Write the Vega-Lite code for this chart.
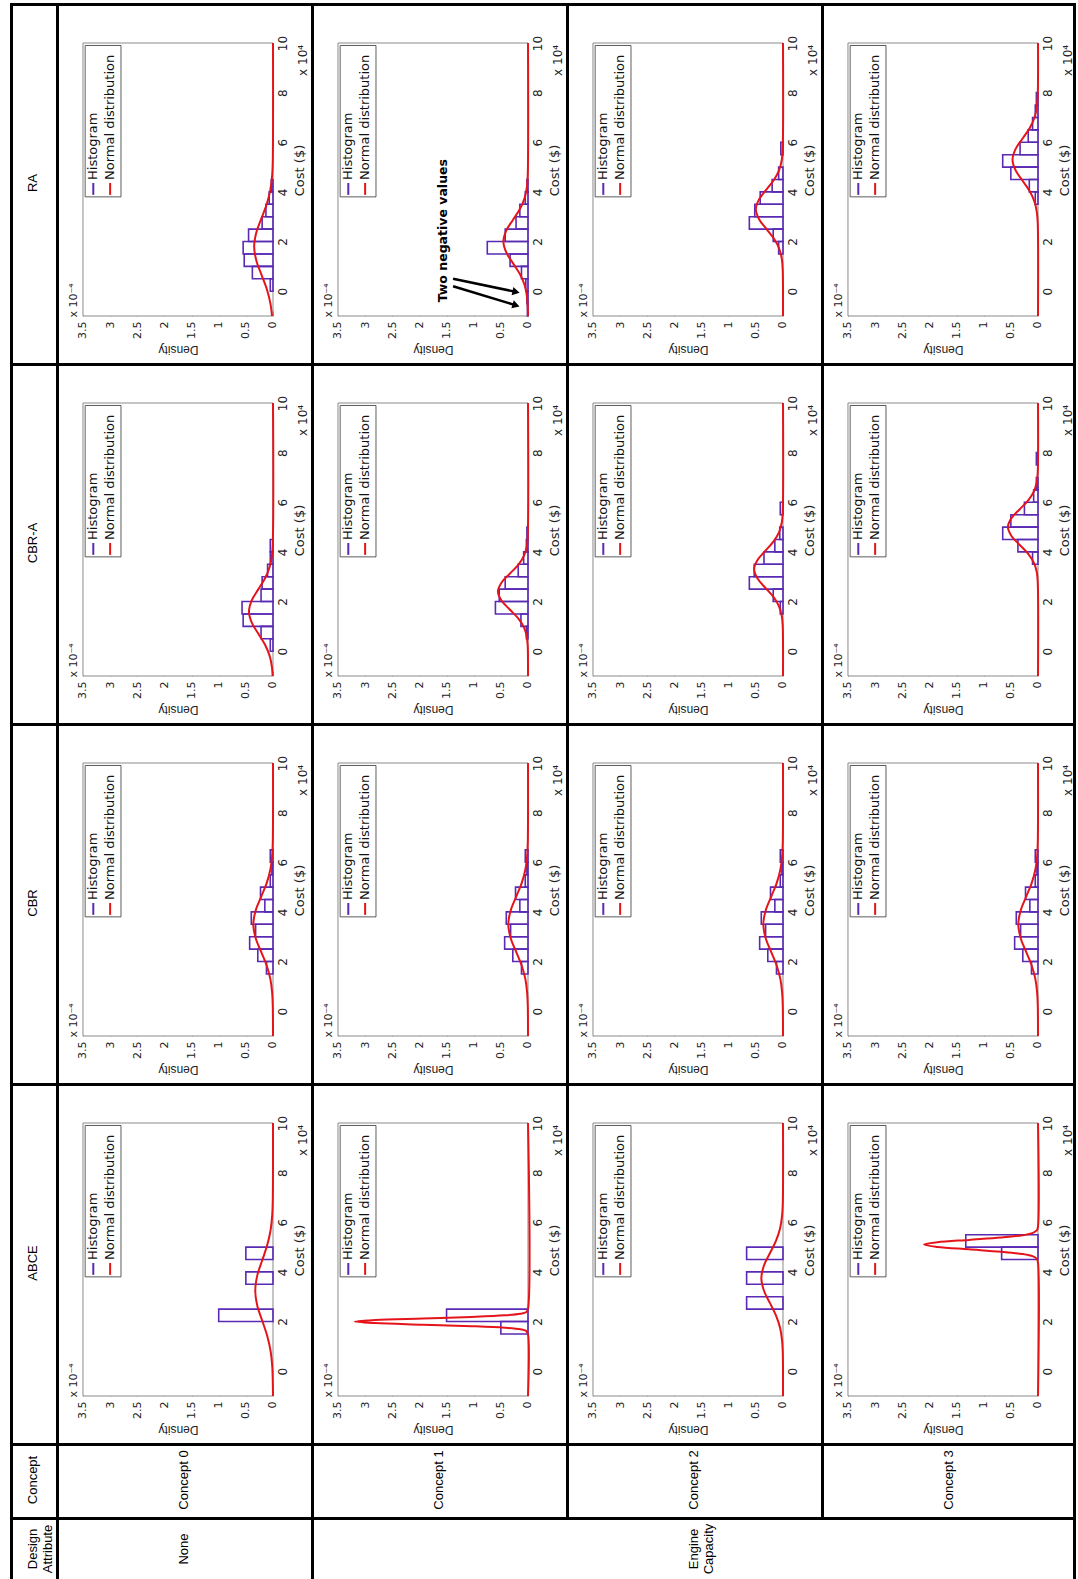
{
"$schema": "https://vega.github.io/schema/vega-lite/v6.json",
"padding": {"left": 10, "top": 3, "right": 0, "bottom": 0},
"background": "white",
"config": {"view": {"stroke": null}, "font": "Liberation Sans", "concat": {"spacing": 0}, "facet": {"spacing": 0}, "axis": {"labelOverlap": false}},
"spacing": 0,
"vconcat": [
{"hconcat": [
  {"vconcat": [
    {"width": 46, "height": 360, "data": {"values": [{"label": "RA"}]}, "layer": [
      {"mark": {"type": "text", "angle": 270, "fontSize": 13, "color": "black"}, "encoding": {"text": {"field": "label"}, "x": {"datum": 0.5, "type": "quantitative", "scale": {"domain": [0, 1], "nice": false}, "axis": null}, "y": {"datum": 0.5, "type": "quantitative", "scale": {"domain": [0, 1], "nice": false}, "axis": null}}},
      {"mark": {"type": "rect", "color": "black"}, "encoding": {"x": {"datum": 0, "type": "quantitative", "axis": null}, "x2": {"datum": 0.0652}, "y": {"datum": 0, "type": "quantitative", "axis": null}, "y2": {"datum": 1}}},
      {"mark": {"type": "rect", "color": "black"}, "encoding": {"x": {"datum": 0, "type": "quantitative", "axis": null}, "x2": {"datum": 1}, "y": {"datum": 1, "type": "quantitative", "axis": null}, "y2": {"datum": 0.99167}}}
    ]},
    {"width": 46, "height": 360, "data": {"values": [{"label": "CBR-A"}]}, "layer": [
      {"mark": {"type": "text", "angle": 270, "fontSize": 13, "color": "black"}, "encoding": {"text": {"field": "label"}, "x": {"datum": 0.5, "type": "quantitative", "scale": {"domain": [0, 1], "nice": false}, "axis": null}, "y": {"datum": 0.5, "type": "quantitative", "scale": {"domain": [0, 1], "nice": false}, "axis": null}}},
      {"mark": {"type": "rect", "color": "black"}, "encoding": {"x": {"datum": 0, "type": "quantitative", "axis": null}, "x2": {"datum": 0.0652}, "y": {"datum": 0, "type": "quantitative", "axis": null}, "y2": {"datum": 1}}},
      {"mark": {"type": "rect", "color": "black"}, "encoding": {"x": {"datum": 0, "type": "quantitative", "axis": null}, "x2": {"datum": 1}, "y": {"datum": 1, "type": "quantitative", "axis": null}, "y2": {"datum": 0.99167}}}
    ]},
    {"width": 46, "height": 360, "data": {"values": [{"label": "CBR"}]}, "layer": [
      {"mark": {"type": "text", "angle": 270, "fontSize": 13, "color": "black"}, "encoding": {"text": {"field": "label"}, "x": {"datum": 0.5, "type": "quantitative", "scale": {"domain": [0, 1], "nice": false}, "axis": null}, "y": {"datum": 0.5, "type": "quantitative", "scale": {"domain": [0, 1], "nice": false}, "axis": null}}},
      {"mark": {"type": "rect", "color": "black"}, "encoding": {"x": {"datum": 0, "type": "quantitative", "axis": null}, "x2": {"datum": 0.0652}, "y": {"datum": 0, "type": "quantitative", "axis": null}, "y2": {"datum": 1}}},
      {"mark": {"type": "rect", "color": "black"}, "encoding": {"x": {"datum": 0, "type": "quantitative", "axis": null}, "x2": {"datum": 1}, "y": {"datum": 1, "type": "quantitative", "axis": null}, "y2": {"datum": 0.99167}}}
    ]},
    {"width": 46, "height": 360, "data": {"values": [{"label": "ABCE"}]}, "layer": [
      {"mark": {"type": "text", "angle": 270, "fontSize": 13, "color": "black"}, "encoding": {"text": {"field": "label"}, "x": {"datum": 0.5, "type": "quantitative", "scale": {"domain": [0, 1], "nice": false}, "axis": null}, "y": {"datum": 0.5, "type": "quantitative", "scale": {"domain": [0, 1], "nice": false}, "axis": null}}},
      {"mark": {"type": "rect", "color": "black"}, "encoding": {"x": {"datum": 0, "type": "quantitative", "axis": null}, "x2": {"datum": 0.0652}, "y": {"datum": 0, "type": "quantitative", "axis": null}, "y2": {"datum": 1}}},
      {"mark": {"type": "rect", "color": "black"}, "encoding": {"x": {"datum": 0, "type": "quantitative", "axis": null}, "x2": {"datum": 1}, "y": {"datum": 1, "type": "quantitative", "axis": null}, "y2": {"datum": 0.99167}}}
    ]}
  ], "spacing": 0, "bounds": "flush"},
  {
  "data": {"values": [
{"kind":"panel","method":"RA","concept":0},{"kind":"panel","method":"RA","concept":1},{"kind":"panel","method":"RA","concept":2},{"kind":"panel","method":"RA","concept":3},
{"kind":"panel","method":"CBR-A","concept":0},{"kind":"panel","method":"CBR-A","concept":1},{"kind":"panel","method":"CBR-A","concept":2},{"kind":"panel","method":"CBR-A","concept":3},
{"kind":"panel","method":"CBR","concept":0},{"kind":"panel","method":"CBR","concept":1},{"kind":"panel","method":"CBR","concept":2},{"kind":"panel","method":"CBR","concept":3},
{"kind":"panel","method":"ABCE","concept":0},{"kind":"panel","method":"ABCE","concept":1},{"kind":"panel","method":"ABCE","concept":2},{"kind":"panel","method":"ABCE","concept":3},
{"kind":"note","method":"RA","concept":1},

{"kind":"hist","method":"RA","concept":0,"cost":0,"cost2":0.5,"density":0.05},
{"kind":"hist","method":"RA","concept":0,"cost":0.5,"cost2":1,"density":0.38},
{"kind":"hist","method":"RA","concept":0,"cost":1,"cost2":1.5,"density":0.53},
{"kind":"hist","method":"RA","concept":0,"cost":1.5,"cost2":2,"density":0.55},
{"kind":"hist","method":"RA","concept":0,"cost":2,"cost2":2.5,"density":0.45},
{"kind":"hist","method":"RA","concept":0,"cost":2.5,"cost2":3,"density":0.2},
{"kind":"hist","method":"RA","concept":0,"cost":3,"cost2":3.5,"density":0.13},
{"kind":"hist","method":"RA","concept":0,"cost":3.5,"cost2":4,"density":0.07},
{"kind":"hist","method":"RA","concept":0,"cost":4,"cost2":4.5,"density":0.03},

{"kind":"hist","method":"RA","concept":1,"cost":-1,"cost2":-0.5,"density":0.01},
{"kind":"hist","method":"RA","concept":1,"cost":-0.5,"cost2":0,"density":0.02},
{"kind":"hist","method":"RA","concept":1,"cost":0,"cost2":0.5,"density":0.04},
{"kind":"hist","method":"RA","concept":1,"cost":0.5,"cost2":1,"density":0.12},
{"kind":"hist","method":"RA","concept":1,"cost":1,"cost2":1.5,"density":0.33},
{"kind":"hist","method":"RA","concept":1,"cost":1.5,"cost2":2,"density":0.75},
{"kind":"hist","method":"RA","concept":1,"cost":2,"cost2":2.5,"density":0.42},
{"kind":"hist","method":"RA","concept":1,"cost":2.5,"cost2":3,"density":0.22},
{"kind":"hist","method":"RA","concept":1,"cost":3,"cost2":3.5,"density":0.15},
{"kind":"hist","method":"RA","concept":1,"cost":3.5,"cost2":4,"density":0.05},
{"kind":"hist","method":"RA","concept":1,"cost":4,"cost2":4.5,"density":0.02},

{"kind":"hist","method":"RA","concept":2,"cost":1.5,"cost2":2,"density":0.08},
{"kind":"hist","method":"RA","concept":2,"cost":2,"cost2":2.5,"density":0.18},
{"kind":"hist","method":"RA","concept":2,"cost":2.5,"cost2":3,"density":0.62},
{"kind":"hist","method":"RA","concept":2,"cost":3,"cost2":3.5,"density":0.52},
{"kind":"hist","method":"RA","concept":2,"cost":3.5,"cost2":4,"density":0.42},
{"kind":"hist","method":"RA","concept":2,"cost":4,"cost2":4.5,"density":0.2},
{"kind":"hist","method":"RA","concept":2,"cost":4.5,"cost2":5,"density":0.08},
{"kind":"hist","method":"RA","concept":2,"cost":5.5,"cost2":6,"density":0.04},

{"kind":"hist","method":"RA","concept":3,"cost":3.5,"cost2":4,"density":0.05},
{"kind":"hist","method":"RA","concept":3,"cost":4,"cost2":4.5,"density":0.16},
{"kind":"hist","method":"RA","concept":3,"cost":4.5,"cost2":5,"density":0.5},
{"kind":"hist","method":"RA","concept":3,"cost":5,"cost2":5.5,"density":0.65},
{"kind":"hist","method":"RA","concept":3,"cost":5.5,"cost2":6,"density":0.33},
{"kind":"hist","method":"RA","concept":3,"cost":6,"cost2":6.5,"density":0.18},
{"kind":"hist","method":"RA","concept":3,"cost":6.5,"cost2":7,"density":0.1},
{"kind":"hist","method":"RA","concept":3,"cost":7,"cost2":7.5,"density":0.05},
{"kind":"hist","method":"RA","concept":3,"cost":7.5,"cost2":8,"density":0.03},

{"kind":"hist","method":"CBR-A","concept":0,"cost":0,"cost2":0.5,"density":0.05},
{"kind":"hist","method":"CBR-A","concept":0,"cost":0.5,"cost2":1,"density":0.22},
{"kind":"hist","method":"CBR-A","concept":0,"cost":1,"cost2":1.5,"density":0.55},
{"kind":"hist","method":"CBR-A","concept":0,"cost":1.5,"cost2":2,"density":0.57},
{"kind":"hist","method":"CBR-A","concept":0,"cost":2,"cost2":2.5,"density":0.22},
{"kind":"hist","method":"CBR-A","concept":0,"cost":2.5,"cost2":3,"density":0.2},
{"kind":"hist","method":"CBR-A","concept":0,"cost":3,"cost2":3.5,"density":0.1},
{"kind":"hist","method":"CBR-A","concept":0,"cost":3.5,"cost2":4,"density":0.05},
{"kind":"hist","method":"CBR-A","concept":0,"cost":4,"cost2":4.5,"density":0.05},

{"kind":"hist","method":"CBR-A","concept":1,"cost":0.5,"cost2":1,"density":0.03},
{"kind":"hist","method":"CBR-A","concept":1,"cost":1,"cost2":1.5,"density":0.13},
{"kind":"hist","method":"CBR-A","concept":1,"cost":1.5,"cost2":2,"density":0.6},
{"kind":"hist","method":"CBR-A","concept":1,"cost":2,"cost2":2.5,"density":0.53},
{"kind":"hist","method":"CBR-A","concept":1,"cost":2.5,"cost2":3,"density":0.42},
{"kind":"hist","method":"CBR-A","concept":1,"cost":3,"cost2":3.5,"density":0.18},
{"kind":"hist","method":"CBR-A","concept":1,"cost":3.5,"cost2":4,"density":0.08},
{"kind":"hist","method":"CBR-A","concept":1,"cost":4,"cost2":4.5,"density":0.03},
{"kind":"hist","method":"CBR-A","concept":1,"cost":4.5,"cost2":5,"density":0.02},

{"kind":"hist","method":"CBR-A","concept":2,"cost":1.5,"cost2":2,"density":0.05},
{"kind":"hist","method":"CBR-A","concept":2,"cost":2,"cost2":2.5,"density":0.18},
{"kind":"hist","method":"CBR-A","concept":2,"cost":2.5,"cost2":3,"density":0.62},
{"kind":"hist","method":"CBR-A","concept":2,"cost":3,"cost2":3.5,"density":0.53},
{"kind":"hist","method":"CBR-A","concept":2,"cost":3.5,"cost2":4,"density":0.35},
{"kind":"hist","method":"CBR-A","concept":2,"cost":4,"cost2":4.5,"density":0.15},
{"kind":"hist","method":"CBR-A","concept":2,"cost":4.5,"cost2":5,"density":0.06},
{"kind":"hist","method":"CBR-A","concept":2,"cost":5.5,"cost2":6,"density":0.05},

{"kind":"hist","method":"CBR-A","concept":3,"cost":3.5,"cost2":4,"density":0.1},
{"kind":"hist","method":"CBR-A","concept":3,"cost":4,"cost2":4.5,"density":0.37},
{"kind":"hist","method":"CBR-A","concept":3,"cost":4.5,"cost2":5,"density":0.65},
{"kind":"hist","method":"CBR-A","concept":3,"cost":5,"cost2":5.5,"density":0.5},
{"kind":"hist","method":"CBR-A","concept":3,"cost":5.5,"cost2":6,"density":0.25},
{"kind":"hist","method":"CBR-A","concept":3,"cost":6,"cost2":6.5,"density":0.08},
{"kind":"hist","method":"CBR-A","concept":3,"cost":6.5,"cost2":7,"density":0.03},
{"kind":"hist","method":"CBR-A","concept":3,"cost":7.5,"cost2":8,"density":0.03},

{"kind":"hist","method":"CBR","concept":0,"cost":1.5,"cost2":2,"density":0.12},
{"kind":"hist","method":"CBR","concept":0,"cost":2,"cost2":2.5,"density":0.28},
{"kind":"hist","method":"CBR","concept":0,"cost":2.5,"cost2":3,"density":0.43},
{"kind":"hist","method":"CBR","concept":0,"cost":3,"cost2":3.5,"density":0.32},
{"kind":"hist","method":"CBR","concept":0,"cost":3.5,"cost2":4,"density":0.4},
{"kind":"hist","method":"CBR","concept":0,"cost":4,"cost2":4.5,"density":0.15},
{"kind":"hist","method":"CBR","concept":0,"cost":4.5,"cost2":5,"density":0.23},
{"kind":"hist","method":"CBR","concept":0,"cost":5,"cost2":5.5,"density":0.05},
{"kind":"hist","method":"CBR","concept":0,"cost":5.5,"cost2":6,"density":0.02},
{"kind":"hist","method":"CBR","concept":0,"cost":6,"cost2":6.5,"density":0.05},

{"kind":"hist","method":"CBR","concept":1,"cost":1.5,"cost2":2,"density":0.12},
{"kind":"hist","method":"CBR","concept":1,"cost":2,"cost2":2.5,"density":0.28},
{"kind":"hist","method":"CBR","concept":1,"cost":2.5,"cost2":3,"density":0.43},
{"kind":"hist","method":"CBR","concept":1,"cost":3,"cost2":3.5,"density":0.32},
{"kind":"hist","method":"CBR","concept":1,"cost":3.5,"cost2":4,"density":0.4},
{"kind":"hist","method":"CBR","concept":1,"cost":4,"cost2":4.5,"density":0.15},
{"kind":"hist","method":"CBR","concept":1,"cost":4.5,"cost2":5,"density":0.23},
{"kind":"hist","method":"CBR","concept":1,"cost":5,"cost2":5.5,"density":0.05},
{"kind":"hist","method":"CBR","concept":1,"cost":5.5,"cost2":6,"density":0.02},
{"kind":"hist","method":"CBR","concept":1,"cost":6,"cost2":6.5,"density":0.05},

{"kind":"hist","method":"CBR","concept":2,"cost":1.5,"cost2":2,"density":0.12},
{"kind":"hist","method":"CBR","concept":2,"cost":2,"cost2":2.5,"density":0.28},
{"kind":"hist","method":"CBR","concept":2,"cost":2.5,"cost2":3,"density":0.43},
{"kind":"hist","method":"CBR","concept":2,"cost":3,"cost2":3.5,"density":0.32},
{"kind":"hist","method":"CBR","concept":2,"cost":3.5,"cost2":4,"density":0.4},
{"kind":"hist","method":"CBR","concept":2,"cost":4,"cost2":4.5,"density":0.15},
{"kind":"hist","method":"CBR","concept":2,"cost":4.5,"cost2":5,"density":0.23},
{"kind":"hist","method":"CBR","concept":2,"cost":5,"cost2":5.5,"density":0.05},
{"kind":"hist","method":"CBR","concept":2,"cost":5.5,"cost2":6,"density":0.02},
{"kind":"hist","method":"CBR","concept":2,"cost":6,"cost2":6.5,"density":0.05},

{"kind":"hist","method":"CBR","concept":3,"cost":1.5,"cost2":2,"density":0.12},
{"kind":"hist","method":"CBR","concept":3,"cost":2,"cost2":2.5,"density":0.28},
{"kind":"hist","method":"CBR","concept":3,"cost":2.5,"cost2":3,"density":0.43},
{"kind":"hist","method":"CBR","concept":3,"cost":3,"cost2":3.5,"density":0.32},
{"kind":"hist","method":"CBR","concept":3,"cost":3.5,"cost2":4,"density":0.4},
{"kind":"hist","method":"CBR","concept":3,"cost":4,"cost2":4.5,"density":0.15},
{"kind":"hist","method":"CBR","concept":3,"cost":4.5,"cost2":5,"density":0.23},
{"kind":"hist","method":"CBR","concept":3,"cost":5,"cost2":5.5,"density":0.05},
{"kind":"hist","method":"CBR","concept":3,"cost":5.5,"cost2":6,"density":0.02},
{"kind":"hist","method":"CBR","concept":3,"cost":6,"cost2":6.5,"density":0.05},

{"kind":"hist","method":"ABCE","concept":0,"cost":2,"cost2":2.5,"density":1},
{"kind":"hist","method":"ABCE","concept":0,"cost":3.5,"cost2":4,"density":0.5},
{"kind":"hist","method":"ABCE","concept":0,"cost":4.5,"cost2":5,"density":0.5},
{"kind":"hist","method":"ABCE","concept":1,"cost":1.5,"cost2":2,"density":0.5},
{"kind":"hist","method":"ABCE","concept":1,"cost":2,"cost2":2.5,"density":1.5},
{"kind":"hist","method":"ABCE","concept":2,"cost":2.5,"cost2":3,"density":0.67},
{"kind":"hist","method":"ABCE","concept":2,"cost":3.5,"cost2":4,"density":0.67},
{"kind":"hist","method":"ABCE","concept":2,"cost":4.5,"cost2":5,"density":0.67},
{"kind":"hist","method":"ABCE","concept":3,"cost":4.5,"cost2":5,"density":0.67},
{"kind":"hist","method":"ABCE","concept":3,"cost":5,"cost2":5.5,"density":1.33},

{"kind":"curve","method":"RA","concept":0,"cost":-1,"density":0.018},
{"kind":"curve","method":"RA","concept":0,"cost":-0.5,"density":0.047},
{"kind":"curve","method":"RA","concept":0,"cost":0.075,"density":0.113},
{"kind":"curve","method":"RA","concept":0,"cost":0.65,"density":0.21},
{"kind":"curve","method":"RA","concept":0,"cost":1.225,"density":0.306},
{"kind":"curve","method":"RA","concept":0,"cost":1.8,"density":0.347},
{"kind":"curve","method":"RA","concept":0,"cost":2.375,"density":0.306},
{"kind":"curve","method":"RA","concept":0,"cost":2.95,"density":0.21},
{"kind":"curve","method":"RA","concept":0,"cost":3.525,"density":0.113},
{"kind":"curve","method":"RA","concept":0,"cost":4.1,"density":0.047},
{"kind":"curve","method":"RA","concept":0,"cost":4.675,"density":0.015},
{"kind":"curve","method":"RA","concept":0,"cost":5.25,"density":0.004},
{"kind":"curve","method":"RA","concept":0,"cost":10,"density":0},

{"kind":"curve","method":"RA","concept":1,"cost":-1,"density":0.001},
{"kind":"curve","method":"RA","concept":1,"cost":-0.64,"density":0.005},
{"kind":"curve","method":"RA","concept":1,"cost":-0.2,"density":0.02},
{"kind":"curve","method":"RA","concept":1,"cost":0.24,"density":0.061},
{"kind":"curve","method":"RA","concept":1,"cost":0.68,"density":0.147},
{"kind":"curve","method":"RA","concept":1,"cost":1.12,"density":0.275},
{"kind":"curve","method":"RA","concept":1,"cost":1.56,"density":0.4},
{"kind":"curve","method":"RA","concept":1,"cost":2,"density":0.453},
{"kind":"curve","method":"RA","concept":1,"cost":2.44,"density":0.4},
{"kind":"curve","method":"RA","concept":1,"cost":2.88,"density":0.275},
{"kind":"curve","method":"RA","concept":1,"cost":3.32,"density":0.147},
{"kind":"curve","method":"RA","concept":1,"cost":3.76,"density":0.061},
{"kind":"curve","method":"RA","concept":1,"cost":4.2,"density":0.02},
{"kind":"curve","method":"RA","concept":1,"cost":4.64,"density":0.005},
{"kind":"curve","method":"RA","concept":1,"cost":10,"density":0},

{"kind":"curve","method":"RA","concept":2,"cost":-1,"density":0},
{"kind":"curve","method":"RA","concept":2,"cost":0.9,"density":0.006},
{"kind":"curve","method":"RA","concept":2,"cost":1.3,"density":0.022},
{"kind":"curve","method":"RA","concept":2,"cost":1.7,"density":0.068},
{"kind":"curve","method":"RA","concept":2,"cost":2.1,"density":0.162},
{"kind":"curve","method":"RA","concept":2,"cost":2.5,"density":0.303},
{"kind":"curve","method":"RA","concept":2,"cost":2.9,"density":0.441},
{"kind":"curve","method":"RA","concept":2,"cost":3.3,"density":0.5},
{"kind":"curve","method":"RA","concept":2,"cost":3.7,"density":0.441},
{"kind":"curve","method":"RA","concept":2,"cost":4.1,"density":0.303},
{"kind":"curve","method":"RA","concept":2,"cost":4.5,"density":0.162},
{"kind":"curve","method":"RA","concept":2,"cost":4.9,"density":0.068},
{"kind":"curve","method":"RA","concept":2,"cost":5.3,"density":0.022},
{"kind":"curve","method":"RA","concept":2,"cost":5.7,"density":0.006},
{"kind":"curve","method":"RA","concept":2,"cost":10,"density":0},

{"kind":"curve","method":"RA","concept":3,"cost":-1,"density":0},
{"kind":"curve","method":"RA","concept":3,"cost":2.75,"density":0.005},
{"kind":"curve","method":"RA","concept":3,"cost":3.175,"density":0.021},
{"kind":"curve","method":"RA","concept":3,"cost":3.6,"density":0.063},
{"kind":"curve","method":"RA","concept":3,"cost":4.025,"density":0.152},
{"kind":"curve","method":"RA","concept":3,"cost":4.45,"density":0.284},
{"kind":"curve","method":"RA","concept":3,"cost":4.875,"density":0.414},
{"kind":"curve","method":"RA","concept":3,"cost":5.3,"density":0.469},
{"kind":"curve","method":"RA","concept":3,"cost":5.725,"density":0.414},
{"kind":"curve","method":"RA","concept":3,"cost":6.15,"density":0.284},
{"kind":"curve","method":"RA","concept":3,"cost":6.575,"density":0.152},
{"kind":"curve","method":"RA","concept":3,"cost":7,"density":0.063},
{"kind":"curve","method":"RA","concept":3,"cost":7.425,"density":0.021},
{"kind":"curve","method":"RA","concept":3,"cost":7.85,"density":0.005},
{"kind":"curve","method":"RA","concept":3,"cost":10,"density":0},

{"kind":"curve","method":"CBR-A","concept":0,"cost":-1,"density":0.007},
{"kind":"curve","method":"CBR-A","concept":0,"cost":-0.65,"density":0.019},
{"kind":"curve","method":"CBR-A","concept":0,"cost":-0.2,"density":0.06},
{"kind":"curve","method":"CBR-A","concept":0,"cost":0.25,"density":0.144},
{"kind":"curve","method":"CBR-A","concept":0,"cost":0.7,"density":0.269},
{"kind":"curve","method":"CBR-A","concept":0,"cost":1.15,"density":0.391},
{"kind":"curve","method":"CBR-A","concept":0,"cost":1.6,"density":0.443},
{"kind":"curve","method":"CBR-A","concept":0,"cost":2.05,"density":0.391},
{"kind":"curve","method":"CBR-A","concept":0,"cost":2.5,"density":0.269},
{"kind":"curve","method":"CBR-A","concept":0,"cost":2.95,"density":0.144},
{"kind":"curve","method":"CBR-A","concept":0,"cost":3.4,"density":0.06},
{"kind":"curve","method":"CBR-A","concept":0,"cost":3.85,"density":0.019},
{"kind":"curve","method":"CBR-A","concept":0,"cost":4.3,"density":0.005},
{"kind":"curve","method":"CBR-A","concept":0,"cost":10,"density":0},

{"kind":"curve","method":"CBR-A","concept":1,"cost":-1,"density":0},
{"kind":"curve","method":"CBR-A","concept":1,"cost":0.24,"density":0.006},
{"kind":"curve","method":"CBR-A","concept":1,"cost":0.6,"density":0.024},
{"kind":"curve","method":"CBR-A","concept":1,"cost":0.96,"density":0.075},
{"kind":"curve","method":"CBR-A","concept":1,"cost":1.32,"density":0.18},
{"kind":"curve","method":"CBR-A","concept":1,"cost":1.68,"density":0.336},
{"kind":"curve","method":"CBR-A","concept":1,"cost":2.04,"density":0.489},
{"kind":"curve","method":"CBR-A","concept":1,"cost":2.4,"density":0.554},
{"kind":"curve","method":"CBR-A","concept":1,"cost":2.76,"density":0.489},
{"kind":"curve","method":"CBR-A","concept":1,"cost":3.12,"density":0.336},
{"kind":"curve","method":"CBR-A","concept":1,"cost":3.48,"density":0.18},
{"kind":"curve","method":"CBR-A","concept":1,"cost":3.84,"density":0.075},
{"kind":"curve","method":"CBR-A","concept":1,"cost":4.2,"density":0.024},
{"kind":"curve","method":"CBR-A","concept":1,"cost":4.56,"density":0.006},
{"kind":"curve","method":"CBR-A","concept":1,"cost":10,"density":0},

{"kind":"curve","method":"CBR-A","concept":2,"cost":-1,"density":0},
{"kind":"curve","method":"CBR-A","concept":2,"cost":1.05,"density":0.006},
{"kind":"curve","method":"CBR-A","concept":2,"cost":1.425,"density":0.023},
{"kind":"curve","method":"CBR-A","concept":2,"cost":1.8,"density":0.072},
{"kind":"curve","method":"CBR-A","concept":2,"cost":2.175,"density":0.173},
{"kind":"curve","method":"CBR-A","concept":2,"cost":2.55,"density":0.323},
{"kind":"curve","method":"CBR-A","concept":2,"cost":2.925,"density":0.469},
{"kind":"curve","method":"CBR-A","concept":2,"cost":3.3,"density":0.532},
{"kind":"curve","method":"CBR-A","concept":2,"cost":3.675,"density":0.469},
{"kind":"curve","method":"CBR-A","concept":2,"cost":4.05,"density":0.323},
{"kind":"curve","method":"CBR-A","concept":2,"cost":4.425,"density":0.173},
{"kind":"curve","method":"CBR-A","concept":2,"cost":4.8,"density":0.072},
{"kind":"curve","method":"CBR-A","concept":2,"cost":5.175,"density":0.023},
{"kind":"curve","method":"CBR-A","concept":2,"cost":5.55,"density":0.006},
{"kind":"curve","method":"CBR-A","concept":2,"cost":10,"density":0},

{"kind":"curve","method":"CBR-A","concept":3,"cost":-1,"density":0},
{"kind":"curve","method":"CBR-A","concept":3,"cost":2.84,"density":0.006},
{"kind":"curve","method":"CBR-A","concept":3,"cost":3.2,"density":0.024},
{"kind":"curve","method":"CBR-A","concept":3,"cost":3.56,"density":0.075},
{"kind":"curve","method":"CBR-A","concept":3,"cost":3.92,"density":0.18},
{"kind":"curve","method":"CBR-A","concept":3,"cost":4.28,"density":0.336},
{"kind":"curve","method":"CBR-A","concept":3,"cost":4.64,"density":0.489},
{"kind":"curve","method":"CBR-A","concept":3,"cost":5,"density":0.554},
{"kind":"curve","method":"CBR-A","concept":3,"cost":5.36,"density":0.489},
{"kind":"curve","method":"CBR-A","concept":3,"cost":5.72,"density":0.336},
{"kind":"curve","method":"CBR-A","concept":3,"cost":6.08,"density":0.18},
{"kind":"curve","method":"CBR-A","concept":3,"cost":6.44,"density":0.075},
{"kind":"curve","method":"CBR-A","concept":3,"cost":6.8,"density":0.024},
{"kind":"curve","method":"CBR-A","concept":3,"cost":7.16,"density":0.006},
{"kind":"curve","method":"CBR-A","concept":3,"cost":10,"density":0},

{"kind":"curve","method":"CBR","concept":0,"cost":-1,"density":0},
{"kind":"curve","method":"CBR","concept":0,"cost":0.2,"density":0.004},
{"kind":"curve","method":"CBR","concept":0,"cost":0.75,"density":0.016},
{"kind":"curve","method":"CBR","concept":0,"cost":1.3,"density":0.049},
{"kind":"curve","method":"CBR","concept":0,"cost":1.85,"density":0.118},
{"kind":"curve","method":"CBR","concept":0,"cost":2.4,"density":0.22},
{"kind":"curve","method":"CBR","concept":0,"cost":2.95,"density":0.32},
{"kind":"curve","method":"CBR","concept":0,"cost":3.5,"density":0.363},
{"kind":"curve","method":"CBR","concept":0,"cost":4.05,"density":0.32},
{"kind":"curve","method":"CBR","concept":0,"cost":4.6,"density":0.22},
{"kind":"curve","method":"CBR","concept":0,"cost":5.15,"density":0.118},
{"kind":"curve","method":"CBR","concept":0,"cost":5.7,"density":0.049},
{"kind":"curve","method":"CBR","concept":0,"cost":6.25,"density":0.016},
{"kind":"curve","method":"CBR","concept":0,"cost":6.8,"density":0.004},
{"kind":"curve","method":"CBR","concept":0,"cost":10,"density":0},

{"kind":"curve","method":"CBR","concept":1,"cost":-1,"density":0},
{"kind":"curve","method":"CBR","concept":1,"cost":0.2,"density":0.004},
{"kind":"curve","method":"CBR","concept":1,"cost":0.75,"density":0.016},
{"kind":"curve","method":"CBR","concept":1,"cost":1.3,"density":0.049},
{"kind":"curve","method":"CBR","concept":1,"cost":1.85,"density":0.118},
{"kind":"curve","method":"CBR","concept":1,"cost":2.4,"density":0.22},
{"kind":"curve","method":"CBR","concept":1,"cost":2.95,"density":0.32},
{"kind":"curve","method":"CBR","concept":1,"cost":3.5,"density":0.363},
{"kind":"curve","method":"CBR","concept":1,"cost":4.05,"density":0.32},
{"kind":"curve","method":"CBR","concept":1,"cost":4.6,"density":0.22},
{"kind":"curve","method":"CBR","concept":1,"cost":5.15,"density":0.118},
{"kind":"curve","method":"CBR","concept":1,"cost":5.7,"density":0.049},
{"kind":"curve","method":"CBR","concept":1,"cost":6.25,"density":0.016},
{"kind":"curve","method":"CBR","concept":1,"cost":6.8,"density":0.004},
{"kind":"curve","method":"CBR","concept":1,"cost":10,"density":0},

{"kind":"curve","method":"CBR","concept":2,"cost":-1,"density":0},
{"kind":"curve","method":"CBR","concept":2,"cost":0.2,"density":0.004},
{"kind":"curve","method":"CBR","concept":2,"cost":0.75,"density":0.016},
{"kind":"curve","method":"CBR","concept":2,"cost":1.3,"density":0.049},
{"kind":"curve","method":"CBR","concept":2,"cost":1.85,"density":0.118},
{"kind":"curve","method":"CBR","concept":2,"cost":2.4,"density":0.22},
{"kind":"curve","method":"CBR","concept":2,"cost":2.95,"density":0.32},
{"kind":"curve","method":"CBR","concept":2,"cost":3.5,"density":0.363},
{"kind":"curve","method":"CBR","concept":2,"cost":4.05,"density":0.32},
{"kind":"curve","method":"CBR","concept":2,"cost":4.6,"density":0.22},
{"kind":"curve","method":"CBR","concept":2,"cost":5.15,"density":0.118},
{"kind":"curve","method":"CBR","concept":2,"cost":5.7,"density":0.049},
{"kind":"curve","method":"CBR","concept":2,"cost":6.25,"density":0.016},
{"kind":"curve","method":"CBR","concept":2,"cost":6.8,"density":0.004},
{"kind":"curve","method":"CBR","concept":2,"cost":10,"density":0},

{"kind":"curve","method":"CBR","concept":3,"cost":-1,"density":0},
{"kind":"curve","method":"CBR","concept":3,"cost":0.2,"density":0.004},
{"kind":"curve","method":"CBR","concept":3,"cost":0.75,"density":0.016},
{"kind":"curve","method":"CBR","concept":3,"cost":1.3,"density":0.049},
{"kind":"curve","method":"CBR","concept":3,"cost":1.85,"density":0.118},
{"kind":"curve","method":"CBR","concept":3,"cost":2.4,"density":0.22},
{"kind":"curve","method":"CBR","concept":3,"cost":2.95,"density":0.32},
{"kind":"curve","method":"CBR","concept":3,"cost":3.5,"density":0.363},
{"kind":"curve","method":"CBR","concept":3,"cost":4.05,"density":0.32},
{"kind":"curve","method":"CBR","concept":3,"cost":4.6,"density":0.22},
{"kind":"curve","method":"CBR","concept":3,"cost":5.15,"density":0.118},
{"kind":"curve","method":"CBR","concept":3,"cost":5.7,"density":0.049},
{"kind":"curve","method":"CBR","concept":3,"cost":6.25,"density":0.016},
{"kind":"curve","method":"CBR","concept":3,"cost":6.8,"density":0.004},
{"kind":"curve","method":"CBR","concept":3,"cost":10,"density":0},

{"kind":"curve","method":"ABCE","concept":0,"cost":-1,"density":0},
{"kind":"curve","method":"ABCE","concept":0,"cost":-0.41,"density":0.004},
{"kind":"curve","method":"ABCE","concept":0,"cost":0.2,"density":0.014},
{"kind":"curve","method":"ABCE","concept":0,"cost":0.81,"density":0.044},
{"kind":"curve","method":"ABCE","concept":0,"cost":1.42,"density":0.106},
{"kind":"curve","method":"ABCE","concept":0,"cost":2.03,"density":0.198},
{"kind":"curve","method":"ABCE","concept":0,"cost":2.64,"density":0.289},
{"kind":"curve","method":"ABCE","concept":0,"cost":3.25,"density":0.327},
{"kind":"curve","method":"ABCE","concept":0,"cost":3.86,"density":0.289},
{"kind":"curve","method":"ABCE","concept":0,"cost":4.47,"density":0.198},
{"kind":"curve","method":"ABCE","concept":0,"cost":5.08,"density":0.106},
{"kind":"curve","method":"ABCE","concept":0,"cost":5.69,"density":0.044},
{"kind":"curve","method":"ABCE","concept":0,"cost":6.3,"density":0.014},
{"kind":"curve","method":"ABCE","concept":0,"cost":6.91,"density":0.004},
{"kind":"curve","method":"ABCE","concept":0,"cost":10,"density":0},

{"kind":"curve","method":"ABCE","concept":1,"cost":-1,"density":0},
{"kind":"curve","method":"ABCE","concept":1,"cost":1.5,"density":0.002},
{"kind":"curve","method":"ABCE","concept":1,"cost":1.625,"density":0.035},
{"kind":"curve","method":"ABCE","concept":1,"cost":1.6875,"density":0.14},
{"kind":"curve","method":"ABCE","concept":1,"cost":1.75,"density":0.432},
{"kind":"curve","method":"ABCE","concept":1,"cost":1.8125,"density":1.036},
{"kind":"curve","method":"ABCE","concept":1,"cost":1.875,"density":1.935},
{"kind":"curve","method":"ABCE","concept":1,"cost":1.9375,"density":2.815},
{"kind":"curve","method":"ABCE","concept":1,"cost":2,"density":3.19},
{"kind":"curve","method":"ABCE","concept":1,"cost":2.0625,"density":2.815},
{"kind":"curve","method":"ABCE","concept":1,"cost":2.125,"density":1.935},
{"kind":"curve","method":"ABCE","concept":1,"cost":2.1875,"density":1.036},
{"kind":"curve","method":"ABCE","concept":1,"cost":2.25,"density":0.432},
{"kind":"curve","method":"ABCE","concept":1,"cost":2.3125,"density":0.14},
{"kind":"curve","method":"ABCE","concept":1,"cost":2.375,"density":0.035},
{"kind":"curve","method":"ABCE","concept":1,"cost":2.5,"density":0.002},
{"kind":"curve","method":"ABCE","concept":1,"cost":10,"density":0},

{"kind":"curve","method":"ABCE","concept":2,"cost":-1,"density":0},
{"kind":"curve","method":"ABCE","concept":2,"cost":0.75,"density":0.004},
{"kind":"curve","method":"ABCE","concept":2,"cost":1.25,"density":0.018},
{"kind":"curve","method":"ABCE","concept":2,"cost":1.75,"density":0.054},
{"kind":"curve","method":"ABCE","concept":2,"cost":2.25,"density":0.13},
{"kind":"curve","method":"ABCE","concept":2,"cost":2.75,"density":0.242},
{"kind":"curve","method":"ABCE","concept":2,"cost":3.25,"density":0.352},
{"kind":"curve","method":"ABCE","concept":2,"cost":3.75,"density":0.399},
{"kind":"curve","method":"ABCE","concept":2,"cost":4.25,"density":0.352},
{"kind":"curve","method":"ABCE","concept":2,"cost":4.75,"density":0.242},
{"kind":"curve","method":"ABCE","concept":2,"cost":5.25,"density":0.13},
{"kind":"curve","method":"ABCE","concept":2,"cost":5.75,"density":0.054},
{"kind":"curve","method":"ABCE","concept":2,"cost":6.25,"density":0.018},
{"kind":"curve","method":"ABCE","concept":2,"cost":6.75,"density":0.004},
{"kind":"curve","method":"ABCE","concept":2,"cost":10,"density":0},

{"kind":"curve","method":"ABCE","concept":3,"cost":-1,"density":0},
{"kind":"curve","method":"ABCE","concept":3,"cost":4.4,"density":0.002},
{"kind":"curve","method":"ABCE","concept":3,"cost":4.53,"density":0.023},
{"kind":"curve","method":"ABCE","concept":3,"cost":4.625,"density":0.092},
{"kind":"curve","method":"ABCE","concept":3,"cost":4.72,"density":0.284},
{"kind":"curve","method":"ABCE","concept":3,"cost":4.815,"density":0.682},
{"kind":"curve","method":"ABCE","concept":3,"cost":4.91,"density":1.274},
{"kind":"curve","method":"ABCE","concept":3,"cost":5.005,"density":1.853},
{"kind":"curve","method":"ABCE","concept":3,"cost":5.1,"density":2.1},
{"kind":"curve","method":"ABCE","concept":3,"cost":5.195,"density":1.853},
{"kind":"curve","method":"ABCE","concept":3,"cost":5.29,"density":1.274},
{"kind":"curve","method":"ABCE","concept":3,"cost":5.385,"density":0.682},
{"kind":"curve","method":"ABCE","concept":3,"cost":5.48,"density":0.284},
{"kind":"curve","method":"ABCE","concept":3,"cost":5.575,"density":0.092},
{"kind":"curve","method":"ABCE","concept":3,"cost":5.67,"density":0.023},
{"kind":"curve","method":"ABCE","concept":3,"cost":5.8,"density":0.002},
{"kind":"curve","method":"ABCE","concept":3,"cost":10,"density":0}
  ]},
  "facet": {
    "row": {"field": "method", "type": "nominal", "sort": ["RA", "CBR-A", "CBR", "ABCE"], "header": null},
    "column": {"field": "concept", "type": "ordinal", "header": null}
  },
  "spacing": 0,
  "bounds": "flush",
  "resolve": {"axis": {"x": "independent", "y": "independent"}},
  "spec": {
    "width": 255,
    "height": 360,
    "layer": [
      {"transform": [{"filter": "datum.kind == 'panel'"}],
       "mark": {"type": "rect", "fill": "white", "stroke": "#8a8a8a", "strokeWidth": 1},
       "encoding": {
         "x": {"datum": 0, "type": "quantitative", "scale": {"domain": [-0.7, 3.997], "reverse": true, "nice": false, "zero": false},
           "axis": {"orient": "bottom", "offset": -52, "values": [0, 0.5, 1, 1.5, 2, 2.5, 3, 3.5], "tickCount": 8, "labelExpr": "datum.value < 0 ? '' : format(datum.value, '.1~f')", "domain": false, "grid": false, "ticks": true, "tickSize": 5, "tickColor": "#8a8a8a", "labelAngle": 270, "labelAlign": "right", "labelBaseline": "middle", "labelPadding": 5, "labelFont": "DejaVu Sans", "labelFontSize": 11, "labelColor": "#222222", "labelOverlap": false, "labelFlush": false, "title": "Density", "titleAngle": 180, "titleBaseline": "bottom", "titleAlign": "center", "titleFont": "Liberation Sans", "titleFontSize": 12, "titleFontWeight": "normal", "titleColor": "#222222", "titlePadding": 4, "titleX": 122}},
         "x2": {"datum": 3.5},
         "y": {"datum": -1, "type": "quantitative", "scale": {"domain": [-2.894, 11.612], "nice": false, "zero": false},
           "axis": {"orient": "right", "offset": -43, "values": [0, 2, 4, 6, 8, 10], "format": "d", "domain": false, "grid": false, "ticks": true, "tickSize": 5, "tickColor": "#8a8a8a", "labelAngle": 270, "labelAlign": "center", "labelBaseline": "top", "labelPadding": 4, "labelFont": "DejaVu Sans", "labelFontSize": 12, "labelColor": "#222222", "labelOverlap": false, "labelFlush": false, "title": "Cost ($)", "titleAngle": 270, "titleBaseline": "top", "titleAlign": "center", "titleFont": "DejaVu Sans", "titleFontSize": 13, "titleFontWeight": "normal", "titleColor": "#222222", "titlePadding": 5, "titleY": 167}},
         "y2": {"datum": 10}}},
      {"transform": [{"filter": "datum.kind == 'hist'"}],
       "mark": {"type": "rect", "fill": "white", "fillOpacity": 0, "stroke": "#5a2ab4", "strokeWidth": 1.6},
       "encoding": {
         "x": {"field": "density", "type": "quantitative"},
         "x2": {"datum": 0},
         "y": {"field": "cost", "type": "quantitative"},
         "y2": {"field": "cost2"}}},
      {"transform": [{"filter": "datum.kind == 'curve'"}],
       "mark": {"type": "line", "color": "#e5141b", "strokeWidth": 2, "interpolate": "catmull-rom"},
       "encoding": {
         "x": {"field": "density", "type": "quantitative"},
         "y": {"field": "cost", "type": "quantitative"},
         "order": {"field": "cost", "type": "quantitative"}}},
      {"transform": [{"filter": "datum.kind == 'panel'"}],
       "mark": {"type": "rect", "fill": "white", "stroke": "#333333", "strokeWidth": 0.8},
       "encoding": {"x": {"datum": 3.46, "type": "quantitative"}, "x2": {"datum": 2.8}, "y": {"datum": 9.9, "type": "quantitative"}, "y2": {"datum": 3.8}}},
      {"transform": [{"filter": "datum.kind == 'panel'"}],
       "mark": {"type": "rule", "color": "#5a2ab4", "strokeWidth": 2},
       "encoding": {"x": {"datum": 3.31, "type": "quantitative"}, "y": {"datum": 4.36, "type": "quantitative"}, "y2": {"datum": 3.88}}},
      {"transform": [{"filter": "datum.kind == 'panel'"}],
       "mark": {"type": "rule", "color": "#e5141b", "strokeWidth": 2},
       "encoding": {"x": {"datum": 3.0, "type": "quantitative"}, "y": {"datum": 4.36, "type": "quantitative"}, "y2": {"datum": 3.88}}},
      {"transform": [{"filter": "datum.kind == 'panel'"}],
       "mark": {"type": "text", "text": "Histogram", "angle": 270, "align": "left", "baseline": "middle", "font": "DejaVu Sans", "fontSize": 13, "color": "#111111"},
       "encoding": {"x": {"datum": 3.31, "type": "quantitative"}, "y": {"datum": 4.48, "type": "quantitative"}}},
      {"transform": [{"filter": "datum.kind == 'panel'"}],
       "mark": {"type": "text", "text": "Normal distribution", "angle": 270, "align": "left", "baseline": "middle", "font": "DejaVu Sans", "fontSize": 13, "color": "#111111"},
       "encoding": {"x": {"datum": 3.0, "type": "quantitative"}, "y": {"datum": 4.48, "type": "quantitative"}}},
      {"transform": [{"filter": "datum.kind == 'panel'"}],
       "mark": {"type": "text", "text": "x 10⁴", "angle": 270, "align": "center", "baseline": "middle", "font": "DejaVu Sans", "fontSize": 12, "color": "#222222"},
       "encoding": {"x": {"datum": -0.56, "type": "quantitative"}, "y": {"datum": 9.3, "type": "quantitative"}}},
      {"transform": [{"filter": "datum.kind == 'panel'"}],
       "mark": {"type": "text", "text": "x 10⁻⁴", "angle": 270, "align": "center", "baseline": "middle", "font": "DejaVu Sans", "fontSize": 11, "color": "#222222"},
       "encoding": {"x": {"datum": 3.66, "type": "quantitative"}, "y": {"datum": -0.37, "type": "quantitative"}}},
      {"transform": [{"filter": "datum.kind == 'note'"}],
       "mark": {"type": "text", "text": "Two negative values", "angle": 270, "align": "left", "baseline": "middle", "font": "DejaVu Sans", "fontSize": 12.5, "fontWeight": "bold", "color": "black"},
       "encoding": {"x": {"datum": 1.57, "type": "quantitative"}, "y": {"datum": -0.45, "type": "quantitative"}}},
      {"transform": [{"filter": "datum.kind == 'note'"}],
       "mark": {"type": "rule", "color": "black", "strokeWidth": 2.5},
       "encoding": {"x": {"datum": 1.38, "type": "quantitative"}, "y": {"datum": 0.5, "type": "quantitative"}, "x2": {"datum": 0.22}, "y2": {"datum": -0.029}}},
      {"transform": [{"filter": "datum.kind == 'note'"}],
       "mark": {"type": "rule", "color": "black", "strokeWidth": 2.5},
       "encoding": {"x": {"datum": 1.38, "type": "quantitative"}, "y": {"datum": 0.2, "type": "quantitative"}, "x2": {"datum": 0.22}, "y2": {"datum": -0.57}}},
      {"transform": [{"filter": "datum.kind == 'note'"}],
       "mark": {"type": "point", "shape": "triangle-right", "filled": true, "color": "black", "size": 70, "angle": 12, "opacity": 1},
       "encoding": {"x": {"datum": 0.22, "type": "quantitative"}, "y": {"datum": -0.029, "type": "quantitative"}}},
      {"transform": [{"filter": "datum.kind == 'note'"}],
       "mark": {"type": "point", "shape": "triangle-right", "filled": true, "color": "black", "size": 70, "angle": 17, "opacity": 1},
       "encoding": {"x": {"datum": 0.22, "type": "quantitative"}, "y": {"datum": -0.57, "type": "quantitative"}}},
      {"transform": [{"filter": "datum.kind == 'panel'"}],
       "mark": {"type": "rect", "color": "black"},
       "encoding": {"x": {"datum": 3.997, "type": "quantitative"}, "x2": {"datum": 3.9417}, "y": {"datum": 11.612, "type": "quantitative"}, "y2": {"datum": -2.894}}},
      {"transform": [{"filter": "datum.kind == 'panel'"}],
       "mark": {"type": "rect", "color": "black"},
       "encoding": {"x": {"datum": 3.997, "type": "quantitative"}, "x2": {"datum": -0.7}, "y": {"datum": 11.612, "type": "quantitative"}, "y2": {"datum": 11.491}}},
      {"transform": [{"filter": "datum.kind == 'panel' && datum.concept == 3"}],
       "mark": {"type": "rect", "color": "black"},
       "encoding": {"x": {"datum": -0.6447, "type": "quantitative"}, "x2": {"datum": -0.7}, "y": {"datum": 11.612, "type": "quantitative"}, "y2": {"datum": -2.894}}}
    ]
  }
  }
], "spacing": 0},
{"hconcat": [
  {"width": 46, "height": 74, "data": {"values": [{"label": "Concept"}]}, "layer": [
    {"mark": {"type": "text", "angle": 270, "fontSize": 13, "color": "black"}, "encoding": {"text": {"field": "label"}, "x": {"datum": 0.5, "type": "quantitative", "scale": {"domain": [0, 1], "nice": false}, "axis": null}, "y": {"datum": 0.5, "type": "quantitative", "scale": {"domain": [0, 1], "nice": false}, "axis": null}}},
    {"mark": {"type": "rect", "color": "black"}, "encoding": {"x": {"datum": 0, "type": "quantitative", "axis": null}, "x2": {"datum": 0.0652}, "y": {"datum": 0, "type": "quantitative", "axis": null}, "y2": {"datum": 1}}},
    {"mark": {"type": "rect", "color": "black"}, "encoding": {"x": {"datum": 0, "type": "quantitative", "axis": null}, "x2": {"datum": 1}, "y": {"datum": 1, "type": "quantitative", "axis": null}, "y2": {"datum": 0.9595}}}
  ]},
  {"width": 255, "height": 74, "data": {"values": [{"label": "Concept 0"}]}, "layer": [
    {"mark": {"type": "text", "angle": 270, "fontSize": 13, "color": "black"}, "encoding": {"text": {"field": "label"}, "x": {"datum": 0.5, "type": "quantitative", "scale": {"domain": [0, 1], "nice": false}, "axis": null}, "y": {"datum": 0.5, "type": "quantitative", "scale": {"domain": [0, 1], "nice": false}, "axis": null}}},
    {"mark": {"type": "rect", "color": "black"}, "encoding": {"x": {"datum": 0, "type": "quantitative", "axis": null}, "x2": {"datum": 0.01176}, "y": {"datum": 0, "type": "quantitative", "axis": null}, "y2": {"datum": 1}}},
    {"mark": {"type": "rect", "color": "black"}, "encoding": {"x": {"datum": 0, "type": "quantitative", "axis": null}, "x2": {"datum": 1}, "y": {"datum": 1, "type": "quantitative", "axis": null}, "y2": {"datum": 0.9595}}}
  ]},
  {"width": 255, "height": 74, "data": {"values": [{"label": "Concept 1"}]}, "layer": [
    {"mark": {"type": "text", "angle": 270, "fontSize": 13, "color": "black"}, "encoding": {"text": {"field": "label"}, "x": {"datum": 0.5, "type": "quantitative", "scale": {"domain": [0, 1], "nice": false}, "axis": null}, "y": {"datum": 0.5, "type": "quantitative", "scale": {"domain": [0, 1], "nice": false}, "axis": null}}},
    {"mark": {"type": "rect", "color": "black"}, "encoding": {"x": {"datum": 0, "type": "quantitative", "axis": null}, "x2": {"datum": 0.01176}, "y": {"datum": 0, "type": "quantitative", "axis": null}, "y2": {"datum": 1}}},
    {"mark": {"type": "rect", "color": "black"}, "encoding": {"x": {"datum": 0, "type": "quantitative", "axis": null}, "x2": {"datum": 1}, "y": {"datum": 1, "type": "quantitative", "axis": null}, "y2": {"datum": 0.9595}}}
  ]},
  {"width": 255, "height": 74, "data": {"values": [{"label": "Concept 2"}]}, "layer": [
    {"mark": {"type": "text", "angle": 270, "fontSize": 13, "color": "black"}, "encoding": {"text": {"field": "label"}, "x": {"datum": 0.5, "type": "quantitative", "scale": {"domain": [0, 1], "nice": false}, "axis": null}, "y": {"datum": 0.5, "type": "quantitative", "scale": {"domain": [0, 1], "nice": false}, "axis": null}}},
    {"mark": {"type": "rect", "color": "black"}, "encoding": {"x": {"datum": 0, "type": "quantitative", "axis": null}, "x2": {"datum": 0.01176}, "y": {"datum": 0, "type": "quantitative", "axis": null}, "y2": {"datum": 1}}},
    {"mark": {"type": "rect", "color": "black"}, "encoding": {"x": {"datum": 0, "type": "quantitative", "axis": null}, "x2": {"datum": 1}, "y": {"datum": 1, "type": "quantitative", "axis": null}, "y2": {"datum": 0.9595}}}
  ]},
  {"width": 255, "height": 74, "data": {"values": [{"label": "Concept 3"}]}, "layer": [
    {"mark": {"type": "text", "angle": 270, "fontSize": 13, "color": "black"}, "encoding": {"text": {"field": "label"}, "x": {"datum": 0.5, "type": "quantitative", "scale": {"domain": [0, 1], "nice": false}, "axis": null}, "y": {"datum": 0.5, "type": "quantitative", "scale": {"domain": [0, 1], "nice": false}, "axis": null}}},
    {"mark": {"type": "rect", "color": "black"}, "encoding": {"x": {"datum": 0, "type": "quantitative", "axis": null}, "x2": {"datum": 0.01176}, "y": {"datum": 0, "type": "quantitative", "axis": null}, "y2": {"datum": 1}}},
    {"mark": {"type": "rect", "color": "black"}, "encoding": {"x": {"datum": 0, "type": "quantitative", "axis": null}, "x2": {"datum": 1}, "y": {"datum": 1, "type": "quantitative", "axis": null}, "y2": {"datum": 0.9595}}},
    {"mark": {"type": "rect", "color": "black"}, "encoding": {"x": {"datum": 0.98824, "type": "quantitative", "axis": null}, "x2": {"datum": 1}, "y": {"datum": 0, "type": "quantitative", "axis": null}, "y2": {"datum": 1}}}
  ]}
], "spacing": 0, "bounds": "flush"},
{"hconcat": [
  {"width": 46, "height": 64, "data": {"values": [{"label": "Design\nAttribute"}]}, "layer": [
    {"mark": {"type": "text", "angle": 270, "fontSize": 13, "lineBreak": "\n", "color": "black"}, "encoding": {"text": {"field": "label"}, "x": {"datum": 0.5, "type": "quantitative", "scale": {"domain": [0, 1], "nice": false}, "axis": null}, "y": {"datum": 0.5, "type": "quantitative", "scale": {"domain": [0, 1], "nice": false}, "axis": null}}},
    {"mark": {"type": "rect", "color": "black"}, "encoding": {"x": {"datum": 0, "type": "quantitative", "axis": null}, "x2": {"datum": 0.0652}, "y": {"datum": 0, "type": "quantitative", "axis": null}, "y2": {"datum": 1}}},
    {"mark": {"type": "rect", "color": "black"}, "encoding": {"x": {"datum": 0, "type": "quantitative", "axis": null}, "x2": {"datum": 1}, "y": {"datum": 1, "type": "quantitative", "axis": null}, "y2": {"datum": 0.95313}}}
  ]},
  {"width": 255, "height": 64, "data": {"values": [{"label": "None"}]}, "layer": [
    {"mark": {"type": "text", "angle": 270, "fontSize": 13, "color": "black"}, "encoding": {"text": {"field": "label"}, "x": {"datum": 0.5, "type": "quantitative", "scale": {"domain": [0, 1], "nice": false}, "axis": null}, "y": {"datum": 0.5, "type": "quantitative", "scale": {"domain": [0, 1], "nice": false}, "axis": null}}},
    {"mark": {"type": "rect", "color": "black"}, "encoding": {"x": {"datum": 0, "type": "quantitative", "axis": null}, "x2": {"datum": 0.01176}, "y": {"datum": 0, "type": "quantitative", "axis": null}, "y2": {"datum": 1}}},
    {"mark": {"type": "rect", "color": "black"}, "encoding": {"x": {"datum": 0, "type": "quantitative", "axis": null}, "x2": {"datum": 1}, "y": {"datum": 1, "type": "quantitative", "axis": null}, "y2": {"datum": 0.95313}}}
  ]},
  {"width": 765, "height": 64, "data": {"values": [{"label": "Engine\nCapacity"}]}, "layer": [
    {"mark": {"type": "text", "angle": 270, "fontSize": 13, "lineBreak": "\n", "color": "black"}, "encoding": {"text": {"field": "label"}, "x": {"datum": 0.5, "type": "quantitative", "scale": {"domain": [0, 1], "nice": false}, "axis": null}, "y": {"datum": 0.5, "type": "quantitative", "scale": {"domain": [0, 1], "nice": false}, "axis": null}}},
    {"mark": {"type": "rect", "color": "black"}, "encoding": {"x": {"datum": 0, "type": "quantitative", "axis": null}, "x2": {"datum": 0.00392}, "y": {"datum": 0, "type": "quantitative", "axis": null}, "y2": {"datum": 1}}},
    {"mark": {"type": "rect", "color": "black"}, "encoding": {"x": {"datum": 0, "type": "quantitative", "axis": null}, "x2": {"datum": 1}, "y": {"datum": 1, "type": "quantitative", "axis": null}, "y2": {"datum": 0.95313}}},
    {"mark": {"type": "rect", "color": "black"}, "encoding": {"x": {"datum": 0.99608, "type": "quantitative", "axis": null}, "x2": {"datum": 1}, "y": {"datum": 0, "type": "quantitative", "axis": null}, "y2": {"datum": 1}}}
  ]}
], "spacing": 0, "bounds": "flush"}
]
}
